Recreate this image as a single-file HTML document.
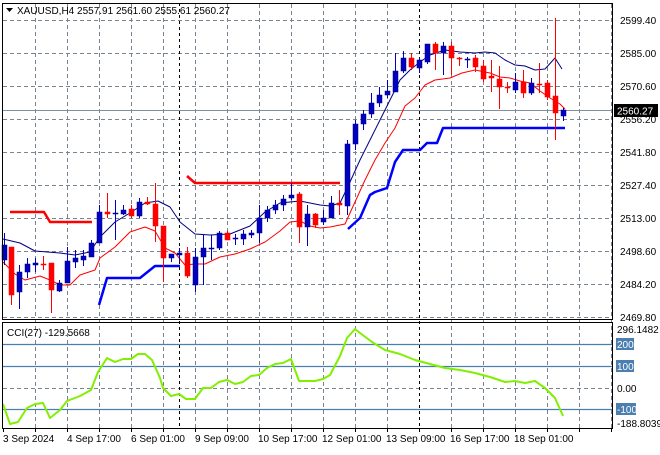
<!DOCTYPE html>
<html><head><meta charset="utf-8"><style>
body{margin:0;background:#fff;width:660px;height:450px;overflow:hidden;font-family:"Liberation Sans",sans-serif}
svg text{font-family:"Liberation Sans",sans-serif;font-size:10px;fill:#000}
</style></head><body>
<svg id="s" width="660" height="450" xmlns="http://www.w3.org/2000/svg">
<rect width="660" height="450" fill="#fff"/>
<g id="grid" stroke="#7a8490" stroke-dasharray="4,3" stroke-width="1"></g>
<line x1="179.5" y1="3" x2="179.5" y2="428" stroke="#000" stroke-dasharray="3,3"/>
<line x1="419.5" y1="3" x2="419.5" y2="428" stroke="#000" stroke-dasharray="3,3"/>
<line x1="2" y1="110.5" x2="613" y2="110.5" stroke="#8090a0"/>
<g id="cci" stroke="#4a7fb0" stroke-width="1.2">
<line x1="2" y1="344.5" x2="613" y2="344.5"/><line x1="2" y1="366.5" x2="613" y2="366.5"/><line x1="2" y1="409.5" x2="613" y2="409.5"/>
</g>
<g id="dyn"></g>
<rect x="2.5" y="3.5" width="610" height="316" fill="none" stroke="#000"/>
<rect x="2.5" y="322.5" width="610" height="106" fill="none" stroke="#000"/>
<path d="M6 8 L13 8 L9.5 12 Z" fill="#000"/>
<text x="17" y="14">XAUUSD,H4  2557.91 2561.60 2555.61 2560.27</text>
<text x="7" y="336">CCI(27) -129.5668</text>
<g>
<text x="620" y="24">2599.40</text><text x="620" y="57">2585.00</text><text x="620" y="90">2570.60</text>
<text x="620" y="123">2556.20</text><text x="620" y="156">2541.80</text><text x="620" y="189">2527.40</text>
<text x="620" y="222">2513.00</text><text x="620" y="255">2498.60</text><text x="620" y="288">2484.20</text>
<text x="620" y="321">2469.80</text>
</g>
<rect x="614" y="104" width="44" height="13" fill="#000"/>
<text x="617" y="114.5" style="fill:#fff">2560.27</text>
<text x="617" y="333">296.1482</text>
<rect x="616" y="338" width="18" height="12" fill="#4a7fb0"/><text x="617" y="348" style="fill:#fff">200</text>
<rect x="616" y="360" width="18" height="12" fill="#4a7fb0"/><text x="617" y="370" style="fill:#fff">100</text>
<text x="617" y="392">0.00</text>
<rect x="616" y="403" width="20" height="12" fill="#4a7fb0"/><text x="617" y="413" style="fill:#fff">-100</text>
<text x="617" y="427">-188.8039</text>
<g>
<text x="3" y="442">3 Sep 2024</text><text x="67" y="442">4 Sep 17:00</text><text x="131" y="442">6 Sep 01:00</text>
<text x="195" y="442">9 Sep 09:00</text><text x="258" y="442">10 Sep 17:00</text><text x="322" y="442">12 Sep 01:00</text>
<text x="386" y="442">13 Sep 09:00</text><text x="450" y="442">16 Sep 17:00</text><text x="514" y="442">18 Sep 01:00</text>
</g>
</svg>
<script>
var NS="http://www.w3.org/2000/svg",g=document.getElementById('grid'),d=document.getElementById('dyn');
function el(p,t,a){var e=document.createElementNS(NS,t);for(var k in a)e.setAttribute(k,a[k]);p.appendChild(e);return e;}
[35,67,99,131,163,195,227,259,291,323,355,387,451,483,515,547,579,611].forEach(function(x){el(g,'line',{x1:x+.5,y1:4,x2:x+.5,y2:428});});
[20,53,86,119,152,185,218,251,284,317].forEach(function(y){el(g,'line',{x1:3,y1:y+.5,x2:612,y2:y+.5});});
el(g,'line',{x1:3,y1:388.5,x2:612,y2:388.5});
for(var x=3;x<=611;x+=32)el(d,'line',{x1:x+.5,y1:428,x2:x+.5,y2:432,stroke:'#000'});
function pl(pts,c,w){el(d,'polyline',{points:pts,fill:'none',stroke:c,'stroke-width':w,'stroke-linejoin':'round'});}
pl("3,239 20,243 35,251 60,253 75,255 90,252 100,237 115,222 130,213 145,203 158,201 170,207 180,222 195,234 210,235 230,234 250,226 265,212 280,203 300,201 320,205 330,206 340,203 350,182 360,160 370,140 380,120 390,100 400,80 410,70 420,62 430,55 445,50 460,52 475,53 485,52 495,53 505,60 515,65 525,66 535,70 545,69 555,58 562,69","#000080",1);
pl("3,262 15,274 25,280 40,276 50,280 60,285 70,285 80,275 95,270 100,258 115,247 130,232 145,227 155,231 165,248 175,253 185,265 195,264 205,264 220,257 235,254 250,249 265,242 280,231 290,222 300,221 310,226 320,228 330,227 345,224 355,202 365,180 375,160 385,143 395,128 405,106 415,98 425,85 435,80 450,78 462,73 475,70 490,73 500,77 510,78 520,81 530,83 540,91 550,98 560,104 565,109","#ff0000",1);
pl("10,212 44,212 50,222 92,222","#ff0000",2.5);
pl("187,176 195,183 340,183","#ff0000",2.5);
pl("99,305 107,278 140,278 155,266 180,266","#0000ff",2.5);
pl("348,229 360,218 370,195 375,192 387,188 395,162 403,150 420,150 427,143 437,143 443,128 565,128","#0000ff",2.5);
var C=[[4,'b',245,260,233,265],[11,'r',247,295,247,305],[19,'b',272,292,265,309],[27,'b',264,272,258,278],[35,'b',263,265,258,272],[43,'r',264,265,256,270],[51,'r',263,290,263,313],[59,'b',283,291,280,292],[67,'b',261,283,247,283],[75,'b',258,262,250,268],[83,'b',256,260,250,266],[91,'b',243,257,240,257],[99,'b',212,243,205,243],[107,'r',212,214,193,218],[115,'b',213,214,200,240],[123,'b',210,214,205,215],[131,'r',209,216,205,218],[139,'b',202,216,198,218],[147,'r',202,204,197,205],[155,'r',204,226,183,242],[163,'r',226,258,226,282],[171,'b',254,258,254,262],[179,'b',253,255,248,262],[187,'r',253,276,247,278],[195,'b',257,285,248,292],[203,'b',248,257,235,285],[211,'b',248,249,235,260],[219,'b',233,248,231,250],[227,'r',233,240,231,240],[235,'b',238,239,234,245],[243,'b',234,239,230,245],[251,'b',233,235,230,238],[259,'b',218,233,205,243],[267,'b',210,218,206,222],[275,'b',205,210,200,214],[283,'b',199,205,195,211],[291,'b',195,198,183,200],[299,'r',194,227,192,243],[307,'b',214,227,205,246],[315,'r',214,225,213,228],[323,'b',218,222,210,225],[331,'b',203,218,196,218],[339,'r',203,205,190,215],[347,'b',144,206,140,215],[355,'b',124,144,120,150],[363,'b',114,124,110,130],[371,'b',103,114,93,118],[379,'b',95,103,87,107],[387,'b',91,95,80,98],[395,'b',71,92,53,92],[403,'b',58,71,51,73],[411,'r',58,67,53,70],[419,'b',60,68,58,73],[427,'b',44,62,44,64],[435,'r',44,53,42,70],[443,'b',46,53,42,75],[451,'r',46,58,42,75],[459,'r',58,59,57,66],[467,'b',59,60,57,68],[475,'r',58,67,55,72],[483,'r',66,79,60,82],[491,'r',76,78,60,92],[499,'r',79,87,66,109],[507,'r',87,88,82,93],[515,'b',82,90,73,93],[523,'r',82,93,70,98],[531,'b',83,93,78,95],[539,'r',84,85,63,93],[547,'r',83,97,80,100],[555,'r',96,113,18,140],[563,'b',110,116,108,121]];
C.forEach(function(c){var col=c[1]=='b'?'#0000c0':'#ff0000';el(d,'line',{x1:c[0]+.5,y1:c[4],x2:c[0]+.5,y2:c[5],stroke:col});el(d,'rect',{x:c[0]-2,y:c[2],width:5,height:Math.max(1,c[3]-c[2]),fill:col,stroke:c[1]=='b'?'#000080':'#ff0000','stroke-width':.5});});
pl("3,404 10,424 18,422 27,408 35,404 43,403 50,418 60,410 67,401 80,396 91,390 98,372 107,358 115,362 123,359 131,359 138,354 145,354 152,360 160,378 163,388 171,396 179,394 186,399 195,399 203,388 211,388 219,382 227,380 235,384 243,382 251,376 259,375 267,368 275,364 283,363 291,359 299,381 307,381 315,381 323,379 330,375 340,356 347,338 355,329 360,333 372,342 385,350 400,354 415,360 430,364 445,368 460,370 475,373 490,377 505,382 515,381 525,383 535,381 545,388 555,398 563,416","#80f000",2);
</script>
</body></html>
